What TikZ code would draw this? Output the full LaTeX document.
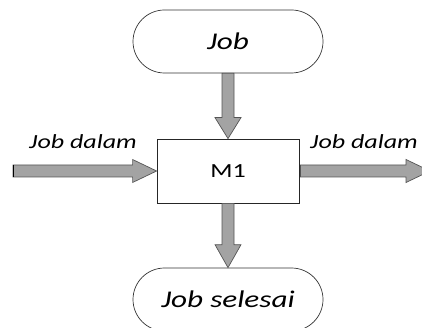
\documentclass[tikz,border=0pt]{standalone}
\usepackage{fontspec}
\setmainfont{Carlito}
\newfontfamily\wideit[FakeStretch=1.3,ItalicFont={Carlito Italic}]{Carlito}
\newfontfamily\widerm[FakeStretch=1.3]{Carlito}
\usetikzlibrary{shapes.misc,calc}
\definecolor{arrowfill}{RGB}{163,163,163}
\definecolor{arrowline}{RGB}{85,85,85}
\tikzset{
  terminal/.style={draw=black!80, line width=0.7pt, rounded rectangle, minimum width=190pt, minimum height=63pt, inner sep=0pt, font=\wideit\itshape\fontsize{24}{28}\selectfont},
  procbox/.style={draw=black!85, line width=0.8pt, rectangle, minimum width=142pt, minimum height=64pt, inner sep=0pt, font=\widerm\fontsize{20}{24}\selectfont},
  lbl/.style={inner sep=0pt, font=\wideit\itshape\fontsize{20}{24}\selectfont},
  fat/.style={fill=arrowfill, draw=arrowline, line width=0.7pt, line join=miter}
}
\begin{document}
\begin{tikzpicture}[x=1pt,y=-1pt]
\useasboundingbox (0,0) rectangle (422,328);
\node[terminal] (job) at (228,41.5) {Job};
\node[procbox] (m1) at (228,171) {M1};
\node[terminal] (done) at (228,299.5) {Job selesai};
\coordinate (inL) at (13,171);
\coordinate (outR) at (430,171);
\node[lbl] (lblL) at (83,142) {Job dalam};
\node[lbl] (lblR) at (364,142) {Job dalam};
% top arrow
\draw[fat] ($(job.south)+(-6,0)$) -- ($(m1.north)+(-6,-21)$) -- ($(m1.north)+(-13,-21)$) -- (m1.north)
  -- ($(m1.north)+(13,-21)$) -- ($(m1.north)+(6,-21)$) -- ($(job.south)+(6,0)$) -- cycle;
% bottom arrow
\draw[fat] ($(m1.south)+(-6,0)$) -- ($(done.north)+(-6,-23)$) -- ($(done.north)+(-13,-23)$) -- (done.north)
  -- ($(done.north)+(13,-23)$) -- ($(done.north)+(6,-23)$) -- ($(m1.south)+(6,0)$) -- cycle;
% left arrow
\draw[fat] ($(inL)+(0,-6)$) -- ($(m1.west)+(-24,-6)$) -- ($(m1.west)+(-24,-11.5)$) -- (m1.west)
  -- ($(m1.west)+(-24,11.5)$) -- ($(m1.west)+(-24,6)$) -- ($(inL)+(0,6)$) -- cycle;
\draw[black, line width=1pt] ($(inL)+(0,-6)$) -- ($(inL)+(0,6)$);
% right arrow
\draw[fat] ($(m1.east)+(1,-6)$) -- ($(outR)+(-24,-6)$) -- ($(outR)+(-24,-11.5)$) -- (outR)
  -- ($(outR)+(-24,11.5)$) -- ($(outR)+(-24,6)$) -- ($(m1.east)+(1,6)$) -- cycle;
\end{tikzpicture}
\end{document}
